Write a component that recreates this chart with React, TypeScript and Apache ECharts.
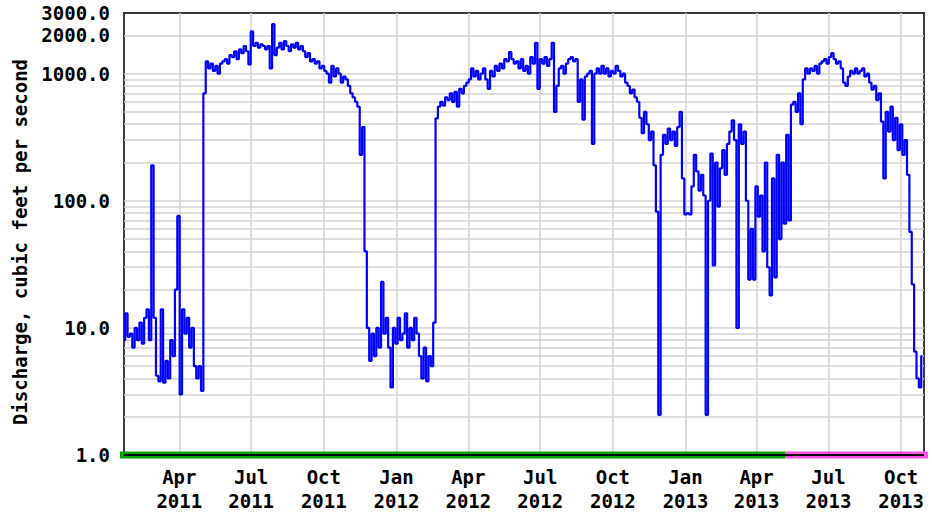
import React, { useEffect, useRef } from 'react';
import * as echarts from 'echarts';

// Discharge samples, one value every SAMPLE_STEP_DAYS days starting at SAMPLE_START
const SAMPLE_START = { year: 2011, month: 0, day: 21 };
const SAMPLE_STEP_DAYS = 3;

const winter2011 = [8, 13, 8.5, 9, 7, 10, 8, 11, 7.5, 12, 14, 8, 190, 12, 4.2, 3.8, 14, 3.7, 5.5, 4, 8, 6, 20, 76, 3, 14, 9, 12, 7, 10, 5, 4, 5, 3.2];
const summer2011 = [700, 1250, 1100, 1200, 1050, 1150, 1000, 1200, 1250, 1300, 1200, 1400, 1350, 1500, 1300, 1550, 1450, 1650, 1500, 1180, 2150, 1650, 1750, 1600, 1700, 1650, 1550, 1650, 1100, 2450, 1400, 1600, 1750, 1550, 1800, 1650, 1500, 1700, 1600, 1750, 1550, 1650, 1500, 1350, 1450, 1250, 1300, 1200, 1250, 1100, 1150, 1050, 1000, 850, 1150, 950, 1100, 1000, 850, 950, 900, 800, 700, 650, 600, 550, 230, 380];
const winter2012 = [40, 10, 5.5, 9, 6, 10, 7, 23, 9, 12, 7, 3.4, 10, 7.5, 12, 8, 9, 13, 7, 10, 8, 12, 9, 6, 4, 7, 3.8, 6, 5, 11];
const summer2012 = [445, 550, 600, 560, 650, 620, 700, 600, 720, 550, 760, 700, 800, 850, 900, 1100, 950, 1050, 900, 1000, 1100, 900, 760, 1050, 950, 1150, 1050, 1200, 1100, 1300, 1250, 1480, 1300, 1200, 1250, 1100, 1300, 1050, 1150, 1000, 1350, 1200, 1750, 760, 1300, 1200, 1350, 1150, 1300, 1750, 500, 800, 1100, 1150, 1000, 1200, 1300, 1350, 1250, 1300, 600, 900, 435, 950, 1000, 1050, 280, 1000, 1100, 1000, 1150, 1000, 1100, 950, 1050, 1000, 1150, 1050, 950, 1000, 850, 800, 700, 750, 650, 600, 450, 340, 500, 400, 300, 350, 190];
const winter2013 = [82, 2.07, 230, 330, 280, 370, 300, 350, 270, 380, 500, 150, 78, 80, 78, 130, 230, 170, 120, 160, 110, 2.07, 100, 235, 31, 200, 90, 180, 250, 160, 280, 350, 430, 300, 10, 400, 280, 350, 100, 24, 60, 24, 130, 75, 110, 40, 200, 30, 18, 150, 25, 230, 50, 200, 66, 330, 70];
const summer2013 = [570, 600, 500, 700, 400, 900, 1100, 1000, 1100, 1050, 1150, 1000, 1200, 1250, 1300, 1200, 1350, 1450, 1300, 1200, 1250, 1100, 850, 800, 950, 1050, 1000, 1100, 1000, 1050, 1100, 950, 1000, 850, 750, 800, 620, 700, 420, 150, 500, 350, 550, 300, 450, 250, 400, 230, 300, 160, 57, 22];
const fall2013 = [6.5, 4, 3.4, 6];

const AXIS_START = '2011-01-21';
const AXIS_END = '2013-10-30';
const STATUS_BAR_START = '2011-01-15';
const APPROVED_END = '2013-05-07';
const STATUS_BAR_END = '2013-11-04';

const quarterTicks = ['2011-04-01', '2011-07-01', '2011-10-01', '2012-01-01', '2012-04-01', '2012-07-01', '2012-10-01', '2013-01-01', '2013-04-01', '2013-07-01', '2013-10-01'];
const MONTH_ABBR = ['Jan', 'Feb', 'Mar', 'Apr', 'May', 'Jun', 'Jul', 'Aug', 'Sep', 'Oct', 'Nov', 'Dec'];

const yLabelValues = [1, 10, 100, 1000, 2000, 3000];
const yGridValues = [2, 3, 4, 5, 6, 7, 8, 9, 10, 20, 30, 40, 50, 60, 70, 80, 90, 100, 200, 300, 400, 500, 600, 700, 800, 900, 1000, 2000];

const FONT_FAMILY = '"DejaVu Sans Mono", monospace';

function toTs(s: string): number {
  const [y, m, d] = s.split('-').map(Number);
  return new Date(y, m - 1, d).getTime();
}

function quarterLabel(s: string): string {
  const [y, m] = s.split('-').map(Number);
  return MONTH_ABBR[m - 1] + '\n' + y;
}

export default function App() {
  const ref = useRef<HTMLDivElement>(null);
  useEffect(() => {
    document.body.style.margin = '0';
    if (!ref.current) return;
    const chart = echarts.init(ref.current, undefined, { renderer: 'svg' });
    const flow = [...winter2011, ...summer2011, ...winter2012, ...summer2012, ...winter2013, ...summer2013, ...fall2013];
    const flowData = flow.map((v, i) => [
      new Date(SAMPLE_START.year, SAMPLE_START.month, SAMPLE_START.day + i * SAMPLE_STEP_DAYS).getTime(),
      v,
    ]);
    const labelStyle = {
      color: '#000',
      fontFamily: FONT_FAMILY,
      fontWeight: 'bold' as const,
      fontSize: 19,
    };
    const gridLineData: any[] = [
      ...yGridValues.map((v) => ({ yAxis: v })),
      ...quarterTicks.map((q) => ({
        xAxis: toTs(q),
        label: { show: true, position: 'start', distance: 10, formatter: quarterLabel(q), lineHeight: 24, align: 'center', ...labelStyle },
      })),
      ...yLabelValues.map((v) => ({
        yAxis: v,
        lineStyle: { color: 'rgba(0,0,0,0)' },
        label: { show: true, position: 'start', distance: 14, formatter: v.toFixed(1), ...labelStyle },
      })),
    ];
    chart.setOption({
      animation: false,
      backgroundColor: '#fff',
      grid: {
        left: 124,
        right: 8,
        top: 13,
        bottom: 65,
        show: true,
        borderColor: '#3a3a3a',
        borderWidth: 2,
        backgroundColor: 'transparent',
      },
      xAxis: {
        type: 'time',
        min: toTs(AXIS_START),
        max: toTs(AXIS_END),
        axisLine: { show: false },
        axisTick: { show: false },
        splitLine: { show: false },
        axisLabel: { show: false },
      },
      yAxis: {
        type: 'log',
        logBase: 10,
        min: 1,
        max: 3000,
        axisLine: { show: false },
        axisTick: { show: false },
        axisLabel: { show: false },
        splitLine: { show: false },
      },
      graphic: [
        {
          type: 'text',
          x: 20,
          y: 242,
          rotation: Math.PI / 2,
          style: {
            text: 'Discharge, cubic feet per second',
            font: 'bold 19px "DejaVu Sans Mono"',
            align: 'center',
            verticalAlign: 'middle',
            fill: '#000',
          },
        },
      ],
      series: [
        {
          type: 'line',
          name: 'Discharge',
          data: flowData,
          step: 'middle',
          symbol: 'none',
          showSymbol: false,
          z: 10,
          lineStyle: { color: '#0000ff', width: 2.2 },
          silent: true,
          markLine: {
            silent: true,
            symbol: 'none',
            z: 1,
            animation: false,
            lineStyle: { color: '#d2d2d2', width: 1.5, type: 'solid' },
            label: { show: false },
            emphasis: { disabled: true },
            data: gridLineData,
          },
        },
        {
          type: 'line',
          name: 'Approved',
          data: [[toTs(STATUS_BAR_START), 1], [toTs(APPROVED_END), 1]],
          symbol: 'none',
          clip: false,
          z: 11,
          silent: true,
          lineStyle: { color: '#00a400', width: 7 },
        },
        {
          type: 'line',
          name: 'Provisional',
          data: [[toTs(APPROVED_END), 1], [toTs(STATUS_BAR_END), 1]],
          symbol: 'none',
          clip: false,
          z: 11,
          silent: true,
          lineStyle: { color: '#ff50e6', width: 7 },
        },
        {
          type: 'line',
          name: 'Axis',
          data: [[toTs(AXIS_START), 1], [toTs(AXIS_END), 1]],
          symbol: 'none',
          clip: false,
          z: 12,
          silent: true,
          lineStyle: { color: '#000', width: 2 },
        },
      ],
    });
    return () => chart.dispose();
  }, []);
  return <div ref={ref} style={{ width: 932, height: 520 }} />;
}
